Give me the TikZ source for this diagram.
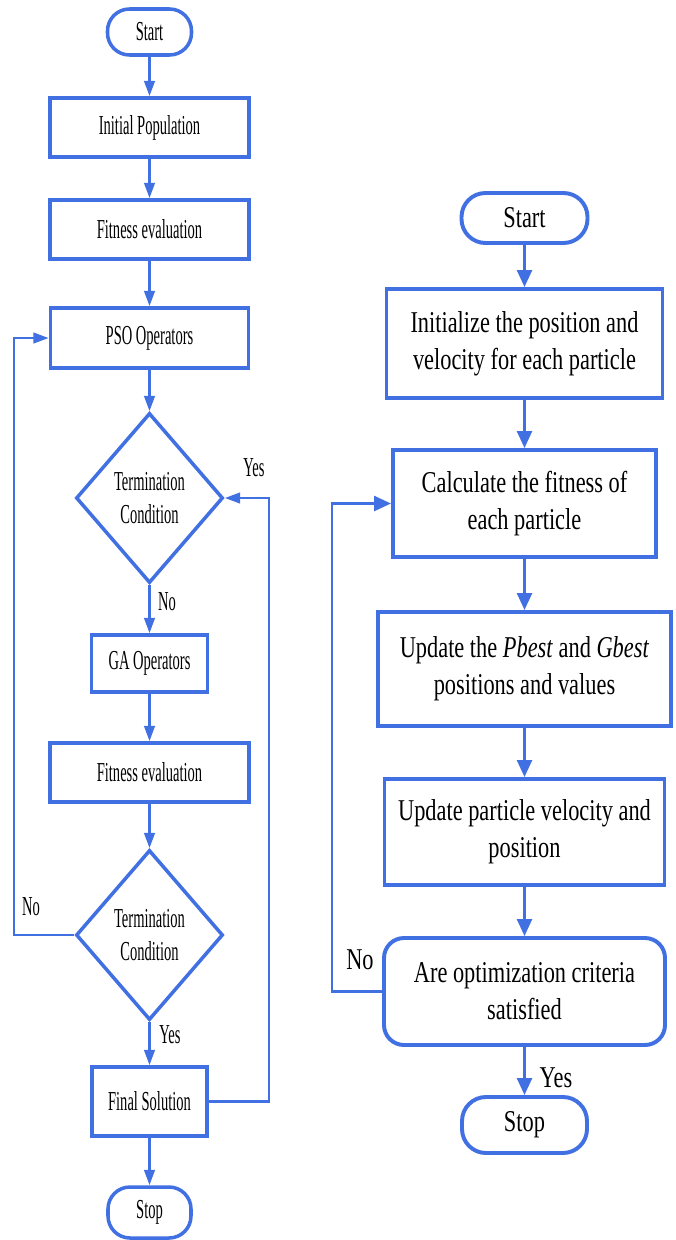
\documentclass[tikz,border=0pt]{standalone}
\usepackage{fontspec}
\setmainfont{Liberation Serif}
\newfontfamily\gaserif[FakeStretch=0.53]{Liberation Serif}
\newfontfamily\psoserif[FakeStretch=0.74]{Liberation Serif}
\usepackage{tikz}
\usetikzlibrary{shapes,arrows,positioning,calc,arrows.meta}
\definecolor{flowblue}{RGB}{65,112,226}
\newcommand{\hybfont}{\gaserif\fontsize{19.5pt}{23pt}\selectfont}
\newcommand{\psofont}{\psoserif\fontsize{21.5pt}{26.3pt}\selectfont}

\begin{document}
\begin{tikzpicture}[
    >={Triangle[length=11pt, width=7.5pt]},
    hybbox/.style={rectangle, draw=flowblue, line width=2.5pt, fill=white, inner sep=0pt, font=\hybfont, align=center},
    hybterm/.style={hybbox, rounded corners=0.55cm},
    hybcond/.style={diamond, draw=flowblue, line width=2.5pt, fill=white, inner sep=0pt, font=\hybfont, align=center, minimum width=3.675cm, minimum height=4.25cm},
    hybline/.style={draw=flowblue, line width=1.9pt},
    hyblabel/.style={font=\hybfont},
    psobox/.style={rectangle, draw=flowblue, line width=2.8pt, fill=white, inner sep=0pt, font=\psofont, align=center},
    psoterm/.style={psobox, rounded corners=0.6cm},
    psoline/.style={draw=flowblue, line width=2pt, >={Triangle[length=12pt, width=10.5pt]}},
    psolabel/.style={font=\psofont}
]

\path[fill=white] (0,0) rectangle (16.9,-31);
\useasboundingbox (0,0) rectangle (16.9,-31);

% Hybrid PSO-GA flow (left)
\node[hybterm, minimum width=2.1cm, minimum height=1.15cm] (startL) at (3.7375, -0.8) {Start};
\node[hybbox, minimum width=4.975cm, minimum height=1.475cm] (initpop) at (3.7375, -3.1875) {Initial Population};
\node[hybbox, minimum width=4.975cm, minimum height=1.475cm] (fitA) at (3.7375, -5.7375) {Fitness evaluation};
\node[hybbox, minimum width=4.95cm, minimum height=1.5cm] (psoop) at (3.7375, -8.45) {PSO Operators};
\node[hybcond] (condA) at (3.7375, -12.45) {Termination\\Condition};
\node[hybbox, minimum width=2.9cm, minimum height=1.425cm] (gaop) at (3.7375, -16.5875) {GA Operators};
\node[hybbox, minimum width=4.975cm, minimum height=1.475cm] (fitB) at (3.7375, -19.3125) {Fitness evaluation};
\node[hybcond] (condB) at (3.7375, -23.375) {Termination\\Condition};
\node[hybbox, minimum width=2.875cm, minimum height=1.725cm] (final) at (3.7375, -27.5375) {Final Solution};
\node[hybterm, minimum width=2.075cm, minimum height=1.275cm] (stopL) at (3.7375, -30.3125) {Stop};

\draw[hybline, ->] (startL) -- (initpop);
\draw[hybline, ->] (initpop) -- (fitA);
\draw[hybline, ->] (fitA) -- (psoop);
\draw[hybline, ->] (psoop) -- (condA);
\draw[hybline, ->] (condA) -- (gaop);
\draw[hybline, ->] (gaop) -- (fitB);
\draw[hybline, ->] (fitB) -- (condB);
\draw[hybline, ->] (condB) -- (final);
\draw[hybline, ->] (final) -- (stopL);

% loops
\coordinate (backL) at (0.35, -23.375);
\coordinate (backR) at (6.725, -27.5375);
\draw[hybline, ->] (condB.west) -- (backL) |- (psoop.west);
\draw[hybline, ->] (final.east) -- (backR) |- (condA.east);

\node[hyblabel] (yesA) at (6.35, -11.7) {Yes};
\node[hyblabel] (noA) at (4.175, -15.05) {No};
\node[hyblabel] (noB) at (0.775, -22.675) {No};
\node[hyblabel] (yesB) at (4.25, -25.875) {Yes};

% PSO flow (right)
\node[psoterm, minimum width=3.15cm, minimum height=1.25cm] (startR) at (13.1125, -5.45) {Start};
\node[psobox, minimum width=6.9cm, minimum height=2.725cm] (initpv) at (13.1125, -8.5875) {Initialize the position and\\velocity for each particle};
\node[psobox, minimum width=6.575cm, minimum height=2.675cm] (calcfit) at (13.1125, -12.5875) {Calculate the fitness of\\each particle};
\node[psobox, minimum width=7.325cm, minimum height=2.85cm] (bestup) at (13.1125, -16.725) {Update the \textit{Pbest} and \textit{Gbest}\\positions and values};
\node[psobox, minimum width=7.0cm, minimum height=2.65cm] (velup) at (13.1125, -20.8) {Update particle velocity and\\position};
\node[psobox, rounded corners=0.5cm, minimum width=7.025cm, minimum height=2.675cm] (crit) at (13.1125, -24.7875) {Are optimization criteria\\satisfied};
\node[psoterm, minimum width=3.125cm, minimum height=1.4cm] (stopR) at (13.1125, -28.125) {Stop};

\draw[psoline, ->] (startR) -- (initpv);
\draw[psoline, ->] (initpv) -- (calcfit);
\draw[psoline, ->] (calcfit) -- (bestup);
\draw[psoline, ->] (bestup) -- (velup);
\draw[psoline, ->] (velup) -- (crit);
\draw[psoline, ->] (crit) -- (stopR);

\coordinate (backP) at (8.3, -24.7875);
\draw[psoline, ->] (crit.west) -- (backP) |- (calcfit.west);

\node[psolabel] (noP) at (9.0, -24.0) {No};
\node[psolabel] (yesP) at (13.9, -26.95) {Yes};

\end{tikzpicture}
\end{document}
